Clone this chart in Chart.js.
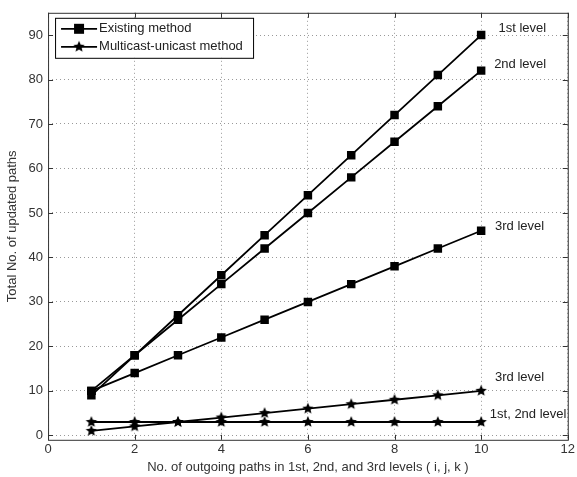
<!DOCTYPE html>
<html>
<head>
<meta charset="utf-8">
<script src="https://cdn.jsdelivr.net/npm/chart.js@4.4.1/dist/chart.umd.min.js"></script>
<style>
  html, body { margin: 0; padding: 0; background: #fff; }
  #wrap { width: 577px; height: 477px; }
</style>
</head>
<body>
<div id="wrap"><canvas id="chart" width="577" height="477"></canvas></div>
<script>
// data
const paths = [1, 2, 3, 4, 5, 6, 7, 8, 9, 10];
const existing1st = [9, 18, 27, 36, 45, 54, 63, 72, 81, 90];
const existing2nd = [10, 18, 26, 34, 42, 50, 58, 66, 74, 82];
const existing3rd = [10, 14, 18, 22, 26, 30, 34, 38, 42, 46];
const multicast3rd = [1, 2, 3, 4, 5, 6, 7, 8, 9, 10];
const multicast12 = [3, 3, 3, 3, 3, 3, 3, 3, 3, 3];

const xTicks = [0, 2, 4, 6, 8, 10, 12];
const yTicks = [0, 10, 20, 30, 40, 50, 60, 70, 80, 90];

const labels = [
    { text: '1st level', x: 10.4, y: 91.5 },
    { text: '2nd level', x: 10.3, y: 83.5 },
    { text: '3rd level', x: 10.32, y: 47 },
    { text: '3rd level', x: 10.32, y: 13 },
    { text: '1st, 2nd level', x: 10.2, y: 4.6 }
];

const FONT = 'Arial, "Liberation Sans", sans-serif';

// filled star marker (Chart.js built-in star is outline only)
function makeStar(r) {
    const c = document.createElement('canvas');
    c.width = c.height = r * 2 + 2;
    const g = c.getContext('2d');
    g.translate(r + 1, r + 1);
    g.beginPath();
    for (let i = 0; i < 10; i++) {
        const rr = i % 2 === 0 ? r : r * 0.45;
        const a = -Math.PI / 2 + i * Math.PI / 5;
        g.lineTo(rr * Math.cos(a), rr * Math.sin(a));
    }
    g.closePath();
    g.fillStyle = '#000';
    g.fill();
    return c;
}
const star = makeStar(6);

function series(data, marker) {
    return {
        data: paths.map((x, i) => ({ x: x, y: data[i] })),
        borderColor: '#000',
        backgroundColor: '#000',
        borderWidth: 1.8,
        pointStyle: marker === 'star' ? star : 'rect',
        pointRadius: 6,
        pointBorderWidth: 0,
        tension: 0
    };
}

// frame, inner tick marks, annotations and legend drawn on top
const extras = {
    id: 'extras',
    afterDraw(chart) {
        const { ctx, chartArea: a, scales } = chart;
        ctx.save();
        ctx.strokeStyle = '#333';
        ctx.lineWidth = 1;
        ctx.strokeRect(a.left + 0.5, a.top + 0.5, a.right - a.left, a.bottom - a.top);
        ctx.beginPath();
        xTicks.forEach(v => {
            const px = Math.round(scales.x.getPixelForValue(v)) + 0.5;
            ctx.moveTo(px, a.bottom); ctx.lineTo(px, a.bottom - 5);
            ctx.moveTo(px, a.top); ctx.lineTo(px, a.top + 5);
        });
        yTicks.forEach(v => {
            const py = Math.round(scales.y.getPixelForValue(v)) + 0.5;
            ctx.moveTo(a.left, py); ctx.lineTo(a.left + 5, py);
            ctx.moveTo(a.right, py); ctx.lineTo(a.right - 5, py);
        });
        ctx.stroke();

        ctx.fillStyle = '#222';
        ctx.font = '13px ' + FONT;
        ctx.textBaseline = 'middle';
        labels.forEach(l => {
            ctx.fillText(l.text, scales.x.getPixelForValue(l.x), scales.y.getPixelForValue(l.y));
        });

        // legend box
        const lx = a.left + 7, ly = a.top + 5, lw = 198, lh = 40;
        ctx.fillStyle = '#fff';
        ctx.fillRect(lx, ly, lw, lh);
        ctx.strokeStyle = '#000';
        ctx.strokeRect(lx + 0.5, ly + 0.5, lw, lh);
        const rows = [['Existing method', 'rect'], ['Multicast-unicast method', 'star']];
        rows.forEach((r, i) => {
            const cy = ly + 11 + i * 18;
            ctx.lineWidth = 1.8;
            ctx.beginPath();
            ctx.moveTo(lx + 6, cy);
            ctx.lineTo(lx + 42, cy);
            ctx.stroke();
            ctx.fillStyle = '#000';
            if (r[1] === 'rect') ctx.fillRect(lx + 19, cy - 5, 10, 10);
            else ctx.drawImage(star, lx + 24 - 7, cy - 7, 14, 14);
            ctx.fillStyle = '#222';
            ctx.fillText(r[0], lx + 44, cy);
        });
        ctx.restore();
    }
};

new Chart(document.getElementById('chart'), {
    type: 'line',
    data: {
        datasets: [
            series(existing1st, 'rect'),
            series(existing2nd, 'rect'),
            series(existing3rd, 'rect'),
            series(multicast3rd, 'star'),
            series(multicast12, 'star')
        ]
    },
    options: {
        responsive: false,
        animation: false,
        layout: { padding: { top: 4, right: 0, left: 1, bottom: 2 } },
        plugins: { legend: { display: false }, tooltip: { enabled: false } },
        scales: {
            x: {
                type: 'linear',
                min: 0, max: 12,
                afterBuildTicks: s => { s.ticks = xTicks.map(v => ({ value: v })); },
                grid: { color: '#999', drawTicks: false },
                border: { dash: [1, 3], display: false },
                ticks: { color: '#333', font: { family: FONT, size: 13 }, padding: 2 },
                title: {
                    display: true,
                    text: 'No. of outgoing paths in 1st, 2nd, and 3rd levels ( i, j, k )',
                    color: '#333',
                    font: { family: FONT, size: 13 },
                    padding: { top: 0, bottom: 0 }
                }
            },
            y: {
                min: -1, max: 95,
                afterBuildTicks: s => { s.ticks = yTicks.map(v => ({ value: v })); },
                grid: { color: '#999', drawTicks: false },
                border: { dash: [1, 3], display: false },
                ticks: { color: '#333', font: { family: FONT, size: 13 }, padding: 5 },
                title: {
                    display: true,
                    text: 'Total No. of updated paths',
                    color: '#333',
                    font: { family: FONT, size: 13 },
                    padding: { bottom: 3 }
                }
            }
        }
    },
    plugins: [extras]
});
</script>
</body>
</html>
